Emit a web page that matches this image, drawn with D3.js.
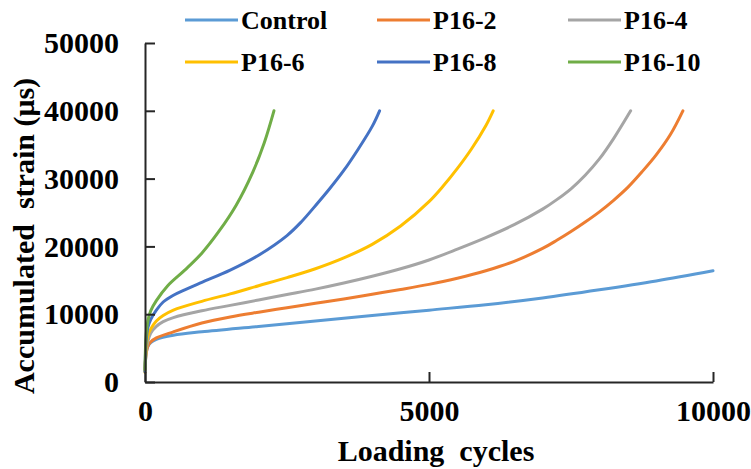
<!DOCTYPE html>
<html>
<head>
<meta charset="utf-8">
<script src="https://cdn.jsdelivr.net/npm/d3@7"></script>
<style>
  body { margin: 0; background: #fff; }
  text { font-family: "Liberation Serif", "Times New Roman", serif; font-weight: bold; fill: #000; }
</style>
</head>
<body>
<svg id="chart" width="751" height="469"></svg>
<script>
// series names and colours
let seriesNames = ["Control", "P16-2", "P16-4", "P16-6", "P16-8", "P16-10"];
let seriesColors = ["#5B9BD5", "#ED7D31", "#A5A5A5", "#FFC000", "#4472C4", "#70AD47"];

// [loading cycles, accumulated strain]
let control = [[0,1500],[20,4200],[50,5200],[100,5800],[200,6300],[500,6900],[1000,7400],[2000,8200],[3000,9000],[4000,9800],[5000,10600],[6000,11400],[7000,12400],[8000,13600],[9000,14900],[10000,16400]];
let p16_2 = [[0,1800],[20,4200],[50,5300],[100,5900],[200,6500],[500,7400],[1000,8700],[1500,9600],[2000,10300],[2500,10950],[3000,11600],[3500,12250],[4000,12950],[4500,13650],[5000,14400],[5500,15300],[6000,16400],[6500,17800],[7000,19700],[7250,20900],[7500,22200],[7750,23600],[8000,25100],[8250,26800],[8500,28700],[8750,31000],[9000,33500],[9250,36500],[9470,40000]];
let p16_4 = [[0,1600],[20,4500],[50,6000],[100,7200],[200,8200],[320,8900],[500,9500],[1000,10500],[1500,11300],[2000,12100],[2500,12900],[3000,13700],[3500,14600],[4000,15600],[4500,16700],[5000,18000],[5500,19600],[6000,21300],[6500,23200],[7000,25500],[7250,26900],[7500,28500],[7750,30500],[8000,32900],[8250,35900],[8550,40000]];
let p16_6 = [[0,1400],[20,5000],[50,6800],[100,7800],[200,9000],[320,9800],[500,10600],[1000,11900],[1500,13000],[2000,14200],[2500,15400],[3000,16700],[3500,18300],[4000,20300],[4500,23000],[5000,26600],[5250,28900],[5500,31500],[5750,34400],[6000,37800],[6130,40000]];
let p16_8 = [[0,1500],[20,6000],[50,8000],[100,9200],[200,10600],[320,11800],[500,12800],[700,13600],[1000,14700],[1500,16500],[2000,18700],[2500,21600],[2750,23600],[3000,26000],[3250,28500],[3500,31200],[3750,34300],[4000,37700],[4130,40000]];
let p16_10 = [[0,1800],[20,7000],[50,9000],[100,10500],[200,12000],[400,14200],[700,16500],[1000,19000],[1300,22200],[1600,26000],[1900,31000],[2100,35300],[2270,40000]];
let seriesData = [control, p16_2, p16_4, p16_6, p16_8, p16_10];

let xTicks = [0, 5000, 10000];
let yTicks = [0, 10000, 20000, 30000, 40000, 50000];

let svg = d3.select("#chart");

let x = d3.scaleLinear().domain([0, 10000]).range([145, 713]);
let y = d3.scaleLinear().domain([0, 50000]).range([382, 43]);

// smooth curves through the read points
let line = d3.line()
    .x(d => x(d[0]))
    .y(d => y(d[1]))
    .curve(d3.curveCatmullRom.alpha(0.5));

svg.append("g")
    .selectAll("path")
    .data(seriesData)
    .join("path")
    .attr("fill", "none")
    .attr("stroke", (d, i) => seriesColors[i])
    .attr("stroke-width", 3)
    .attr("stroke-linecap", "round")
    .attr("d", line);

// axes (ticks point inward, like the Excel original)
let xAxis = svg.append("g")
    .attr("transform", "translate(0,382)")
    .call(d3.axisBottom(x).tickValues(xTicks).tickSizeInner(-10).tickSizeOuter(0).tickFormat(d3.format("d")));

let yAxis = svg.append("g")
    .attr("transform", "translate(145,0)")
    .call(d3.axisLeft(y).tickValues(yTicks).tickSizeInner(-10).tickSizeOuter(0).tickPadding(26).tickFormat(d3.format("d")));

[xAxis, yAxis].forEach(a => {
    a.select(".domain").attr("stroke", "#262626").attr("stroke-width", 2);
    a.selectAll(".tick line").attr("stroke", "#262626").attr("stroke-width", 2);
    a.selectAll(".tick text")
        .attr("font-family", "Liberation Serif")
        .attr("font-weight", "bold")
        .attr("font-size", 30)
        .attr("fill", "#000");
});
xAxis.selectAll(".tick text").attr("dy", "0.35em").attr("y", 28);

// axis titles
svg.append("text")
    .attr("x", 436)
    .attr("y", 461)
    .attr("text-anchor", "middle")
    .attr("font-size", 30)
    .attr("xml:space", "preserve")
    .text("Loading  cycles");

svg.append("text")
    .attr("transform", "translate(34,236) rotate(-90)")
    .attr("text-anchor", "middle")
    .attr("font-size", 30)
    .attr("xml:space", "preserve")
    .text("Accumulated  strain (μs)");

// legend, two rows of three
let legend = svg.append("g")
    .selectAll("g")
    .data(seriesNames)
    .join("g")
    .attr("transform", (d, i) => "translate(" + [185, 377, 568][i % 3] + "," + (i < 3 ? 20 : 62) + ")");

legend.append("line")
    .attr("x1", 0).attr("x2", 53)
    .attr("stroke", (d, i) => seriesColors[i])
    .attr("stroke-width", 3);

legend.append("text")
    .attr("x", 56)
    .attr("dy", "0.35em")
    .attr("font-size", 26)
    .text(d => d);
</script>
</body>
</html>
